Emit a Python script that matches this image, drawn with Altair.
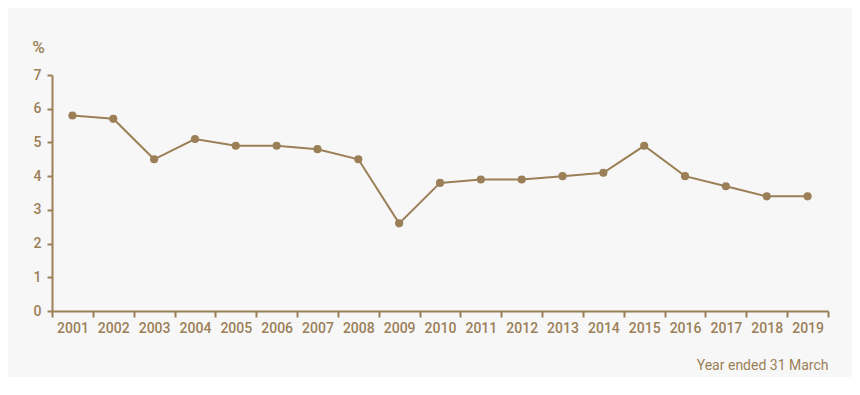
import altair as alt
import pandas as pd

years = [str(y) for y in range(2001, 2020)]
values = [5.8, 5.7, 4.5, 5.1, 4.9, 4.9, 4.8, 4.5, 2.6, 3.8, 3.9, 3.9, 4.0, 4.1, 4.9, 4.0, 3.7, 3.4, 3.4]

df = pd.DataFrame({"year": years, "value": values})

C = "#9b7f57"
TXT = "#9b7f57"

x = alt.X("year:O",
          scale=alt.Scale(type="band", paddingInner=0, paddingOuter=0),
          bandPosition=0.5,
          axis=alt.Axis(title="Year ended 31 March", labelAngle=0, tickBand="extent",
                        domainColor=C, tickColor=C, tickSize=6, domainWidth=2, tickWidth=2,
                        labelColor=TXT, labelFont="Roboto", labelFontSize=14, labelFontWeight=500,
                        labelPadding=4,
                        titleColor=TXT, titleFont="Roboto", titleFontSize=14, titleFontWeight="normal",
                        titleAnchor="end", titleAlign="right", titleBaseline="middle",
                        titleX=776, titleY=54))
y = alt.Y("value:Q",
          scale=alt.Scale(domain=[0, 7], nice=False),
          axis=alt.Axis(title="%", titleAngle=0, values=list(range(8)), grid=False,
                        domainColor=C, tickColor=C, tickSize=5, domainWidth=2, tickWidth=2,
                        labelColor=TXT, labelFont="Roboto", labelFontSize=14, labelFontWeight=500,
                        labelPadding=6,
                        titleColor=TXT, titleFont="Roboto", titleFontSize=17, titleFontWeight=500,
                        titleAlign="center", titleBaseline="middle", titleX=-14, titleY=-28))

line = alt.Chart(df).mark_line(color=C, strokeWidth=2).encode(x=x, y=y)
pts = alt.Chart(df).mark_circle(color=C, size=66, opacity=1).encode(x=x, y=y)

chart = (line + pts).properties(
    width=776, height=236,
    background="#f7f7f7",
    padding={"left": 44, "top": 67, "right": 24, "bottom": 66},
    autosize=alt.AutoSizeParams(type="none"),
).configure_view(stroke=None)

chart.save("out.html", embed_options={"renderer": "svg", "actions": False})
